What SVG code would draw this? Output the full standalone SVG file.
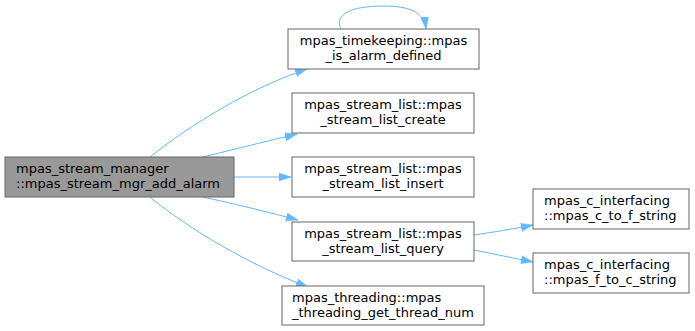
<svg xmlns="http://www.w3.org/2000/svg" width="695" height="331" viewBox="0 0 695 331">
  <style>
    .node rect { fill: #ffffff; stroke: #666666; stroke-width: 1; }
    .node.main rect { fill: #999999; }
    .node text { font-family: "DejaVu Sans", "Liberation Sans", sans-serif; font-size: 13px; fill: #000000; }
    .edge { fill: none; stroke: #63b8ff; stroke-width: 1; }
  </style>
  <defs>
    <marker id="arrow" viewBox="0 0 12 10" refX="12" refY="5" markerWidth="12" markerHeight="10" markerUnits="userSpaceOnUse" orient="auto">
      <path d="M0,1 L12,5 L0,9 Z" fill="#63b8ff" stroke="#63b8ff" stroke-width="0.5"/>
    </marker>
  </defs>

  <g id="connectors">
    <path class="edge" marker-end="url(#arrow)" d="M150,157 C190,125 250,88 307,69"/>
    <path class="edge" marker-end="url(#arrow)" d="M203,157 C235,149 268,141 297,134"/>
    <path class="edge" marker-end="url(#arrow)" d="M234,177 L291,177"/>
    <path class="edge" marker-end="url(#arrow)" d="M203,197 C235,204 268,212 298,220"/>
    <path class="edge" marker-end="url(#arrow)" d="M150,197 C190,230 250,265 308,287"/>
    <path class="edge" marker-end="url(#arrow)" d="M341,29 C334,15 350,6 383,6 C410,6 424,12 426,29"/>
    <path class="edge" marker-end="url(#arrow)" d="M474,235 C494,232 513,229 533,225"/>
    <path class="edge" marker-end="url(#arrow)" d="M474,250 C494,254 513,258 533,262"/>
  </g>

  <g id="mpas_stream_mgr_add_alarm" class="node main">
    <rect x="5" y="157" width="229" height="40"/>
    <text x="16" y="173">mpas_stream_manager</text>
    <text x="16" y="188">::mpas_stream_mgr_add_alarm</text>
  </g>

  <g id="mpas_is_alarm_defined" class="node">
    <rect x="288" y="29" width="191" height="40"/>
    <text x="383.5" y="45" text-anchor="middle">mpas_timekeeping::mpas</text>
    <text x="383.5" y="60" text-anchor="middle">_is_alarm_defined</text>
  </g>

  <g id="mpas_stream_list_create" class="node">
    <rect x="292" y="93" width="182" height="40"/>
    <text x="383" y="109" text-anchor="middle">mpas_stream_list::mpas</text>
    <text x="383" y="124" text-anchor="middle">_stream_list_create</text>
  </g>

  <g id="mpas_stream_list_insert" class="node">
    <rect x="292" y="157" width="182" height="40"/>
    <text x="383" y="173" text-anchor="middle">mpas_stream_list::mpas</text>
    <text x="383" y="188" text-anchor="middle">_stream_list_insert</text>
  </g>

  <g id="mpas_stream_list_query" class="node">
    <rect x="292" y="222" width="182" height="39"/>
    <text x="383" y="238" text-anchor="middle">mpas_stream_list::mpas</text>
    <text x="383" y="253" text-anchor="middle">_stream_list_query</text>
  </g>

  <g id="mpas_threading_get_thread_num" class="node">
    <rect x="282" y="286" width="202" height="39"/>
    <text x="292" y="302">mpas_threading::mpas</text>
    <text x="292" y="317">_threading_get_thread_num</text>
  </g>

  <g id="mpas_c_to_f_string" class="node">
    <rect x="533" y="189" width="156" height="40"/>
    <text x="544" y="205">mpas_c_interfacing</text>
    <text x="544" y="220">::mpas_c_to_f_string</text>
  </g>

  <g id="mpas_f_to_c_string" class="node">
    <rect x="533" y="253" width="156" height="40"/>
    <text x="544" y="269">mpas_c_interfacing</text>
    <text x="544" y="284">::mpas_f_to_c_string</text>
  </g>
</svg>
